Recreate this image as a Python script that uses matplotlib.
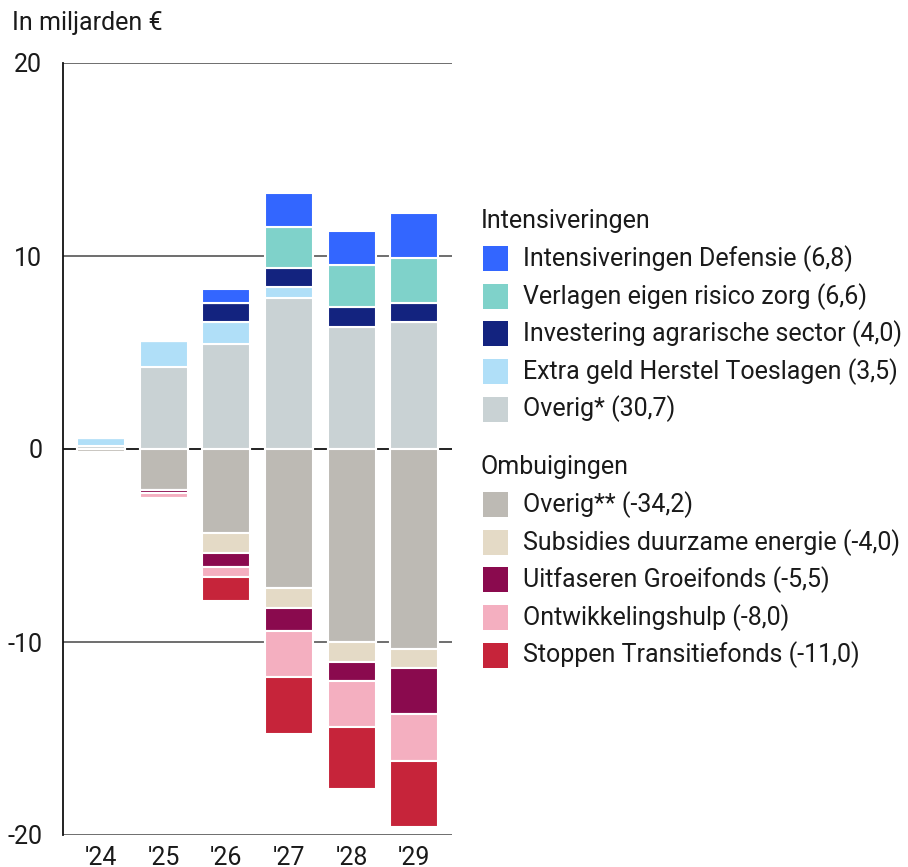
"""Begroting: intensiveringen en ombuigingen per jaar (gestapelde staven)."""

import matplotlib.pyplot as plt
from matplotlib.patches import Rectangle

plt.rcParams["font.family"] = ["Roboto", "DejaVu Sans"]

# ── Data (in miljarden €) ─────────────────────────────────────────────────
jaren = ["'24", "'25", "'26", "'27", "'28", "'29"]

# Intensiveringen (van onder naar boven gestapeld)
overig_plus = [0.17, 4.23, 5.42, 7.84, 6.34, 6.58]
herstel_toeslagen = [0.42, 1.35, 1.14, 0.54, 0.0, 0.0]
agrarische_sector = [0.0, 0.0, 1.0, 1.0, 1.0, 0.98]
eigen_risico = [0.0, 0.0, 0.0, 2.1, 2.21, 2.32]
defensie = [0.0, 0.0, 0.72, 1.8, 1.75, 2.33]

# Ombuigingen (vanaf nul naar beneden gestapeld)
overig_min = [-0.17, -2.12, -4.37, -7.22, -10.02, -10.38]
subsidies = [0.0, 0.0, -1.0, -1.0, -1.0, -0.98]
groeifonds = [0.0, -0.16, -0.74, -1.21, -1.0, -2.39]
ontwikkelingshulp = [0.0, -0.24, -0.5, -2.4, -2.4, -2.4]
transitiefonds = [0.0, 0.0, -1.28, -2.95, -3.2, -3.45]

pos_series = [
    ("Overig* (30,7)", overig_plus, "#c9d2d4"),
    ("Extra geld Herstel Toeslagen (3,5)", herstel_toeslagen, "#b0dff8"),
    ("Investering agrarische sector (4,0)", agrarische_sector, "#13237f"),
    ("Verlagen eigen risico zorg (6,6)", eigen_risico, "#7fd2ca"),
    ("Intensiveringen Defensie (6,8)", defensie, "#3366ff"),
]
neg_series = [
    ("Overig** (-34,2)", overig_min, "#bdbab4"),
    ("Subsidies duurzame energie (-4,0)", subsidies, "#e4dac6"),
    ("Uitfaseren Groeifonds (-5,5)", groeifonds, "#8a0a4e"),
    ("Ontwikkelingshulp (-8,0)", ontwikkelingshulp, "#f4afc0"),
    ("Stoppen Transitiefonds (-11,0)", transitiefonds, "#c6243a"),
]

TEKST = "#1a1a1a"
FS = 18

fig = plt.figure(figsize=(9.08, 8.67), dpi=100)
W, H = 908, 867
ax = fig.add_axes([63 / W, (H - 835) / H, (452 - 63) / W, 772 / H])

x = list(range(len(jaren)))

# Rasterlijnen achter de staven
for y in [20, 10, -10, -20]:
    ax.axhline(y, color="#555555", linewidth=1.2, zorder=0)
ax.axhline(0, color="#111111", linewidth=1.3, zorder=0)


def stapel(series):
    basis = [0.0] * len(x)
    for naam, waarden, kleur in series:
        ax.bar(x, waarden, bottom=basis, width=0.765, color=kleur,
               edgecolor="white", linewidth=1.5, zorder=2)
        basis = [b + v for b, v in zip(basis, waarden)]


stapel(pos_series)
stapel(neg_series)

ax.set_xlim(-0.606, 5.6)
ax.set_ylim(-20, 20)
ax.set_yticks([20, 10, 0, -10, -20])
ax.set_yticklabels(["20", "10", "0", "-10", "-20"])
ax.set_xticks(x)
ax.set_xticklabels(jaren)
ax.tick_params(axis="both", length=0, labelsize=FS, labelcolor=TEKST)
ax.tick_params(axis="y", pad=15)
ax.tick_params(axis="x", pad=8)
for kant in ["top", "right", "bottom"]:
    ax.spines[kant].set_visible(False)
ax.spines["left"].set_color("#111111")
ax.spines["left"].set_linewidth(1.3)
ax.set_facecolor("none")

fig.text(12 / W, 1 - 23 / H, "In miljarden €", fontsize=FS, color=TEKST,
         va="center", ha="left")

# ── Legenda (handmatig) ───────────────────────────────────────────────────
def legenda_blok(titel, series, y_titel):
    fig.text(481 / W, 1 - y_titel / H, titel, fontsize=FS, color=TEKST,
             va="center", ha="left")
    for i, (naam, _, kleur) in enumerate(series):
        yc = y_titel + 37.6 * (i + 1)
        fig.add_artist(Rectangle((483 / W, 1 - (yc + 12.5) / H), 25 / W, 25 / H,
                                 transform=fig.transFigure, facecolor=kleur,
                                 edgecolor="none"))
        fig.text(523 / W, 1 - yc / H, naam, fontsize=FS, color=TEKST,
                 va="center", ha="left")


legenda_blok("Intensiveringen", list(reversed(pos_series)), 221)
legenda_blok("Ombuigingen", neg_series, 467)

fig.savefig("out.png", dpi=100)
